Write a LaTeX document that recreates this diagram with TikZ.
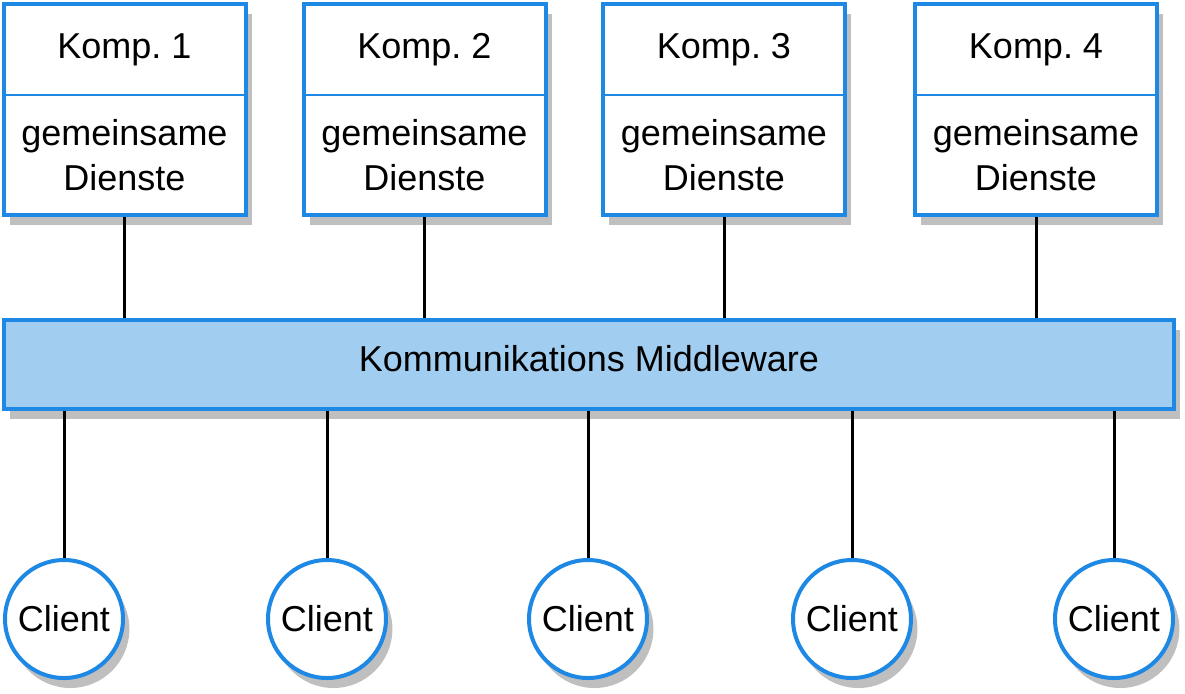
\documentclass[tikz,border=0pt]{standalone}
\usepackage{fontspec}
\setmainfont{Liberation Sans}
\usepackage{tikz}
\usetikzlibrary{shadows}
\usetikzlibrary{positioning}
\definecolor{compblue}{RGB}{30,136,229}
\definecolor{mwfill}{RGB}{160,205,240}
\tikzset{% 
	box/.style={draw=compblue,line width=2pt,fill=white,inner sep=0pt,
		drop shadow={shadow xshift=3.2pt,shadow yshift=-5pt,fill=black!25,opacity=1},
		font=\fontsize{18}{22.5}\selectfont,align=center}
}
\tikzset{% 
	part/.style={box,line width=1pt,outer sep=0pt,minimum width=121pt},
	head/.style={part,minimum height=45.5pt},
	body/.style={part,minimum height=60pt},
	frame/.style={draw=compblue,line width=2pt},
	client/.style={box,circle,minimum size=59pt},
	link/.style={line width=1.5pt,black}
}

\begin{document}
\frenchspacing
\begin{tikzpicture}[x=0.5pt,y=-0.5pt]
		\useasboundingbox (0,0) rectangle (1185,693);

		%Middleware
		\node [box,fill=mwfill,minimum width=585pt,minimum height=44.5pt,text depth=6pt] (mw) at (589,364.5) {Kommunikations Middleware};

		%Components
		\node [head] (k1) at (124.5,49.5) {Komp. 1};
		\node [body,below=0pt of k1] (k1b) {gemeinsame\\Dienste};
		\draw [frame] (k1.north west) rectangle (k1b.south east);
		\node [head] (k2) at (424.5,49.5) {Komp. 2};
		\node [body,below=0pt of k2] (k2b) {gemeinsame\\Dienste};
		\draw [frame] (k2.north west) rectangle (k2b.south east);
		\node [head] (k3) at (724,49.5) {Komp. 3};
		\node [body,below=0pt of k3] (k3b) {gemeinsame\\Dienste};
		\draw [frame] (k3.north west) rectangle (k3b.south east);
		\node [head] (k4) at (1036,49.5) {Komp. 4};
		\node [body,below=0pt of k4] (k4b) {gemeinsame\\Dienste};
		\draw [frame] (k4.north west) rectangle (k4b.south east);

		\draw [link] ([yshift=-1pt]k1b.south) -- (k1b.south |- mw.north);
		\draw [link] ([yshift=-1pt]k2b.south) -- (k2b.south |- mw.north);
		\draw [link] ([yshift=-1pt]k3b.south) -- (k3b.south |- mw.north);
		\draw [link] ([yshift=-1pt]k4b.south) -- (k4b.south |- mw.north);

		%Clients
		\node [client] (c1) at (64,619) {Client};
		\node [client] (c2) at (327,619) {Client};
		\node [client] (c3) at (588,619) {Client};
		\node [client] (c4) at (852,619) {Client};
		\node [client] (c5) at (1114,619) {Client};

		\draw [link] (c1.north) -- (c1.north |- mw.south);
		\draw [link] (c2.north) -- (c2.north |- mw.south);
		\draw [link] (c3.north) -- (c3.north |- mw.south);
		\draw [link] (c4.north) -- (c4.north |- mw.south);
		\draw [link] (c5.north) -- (c5.north |- mw.south);

	\end{tikzpicture}
\end{document}
